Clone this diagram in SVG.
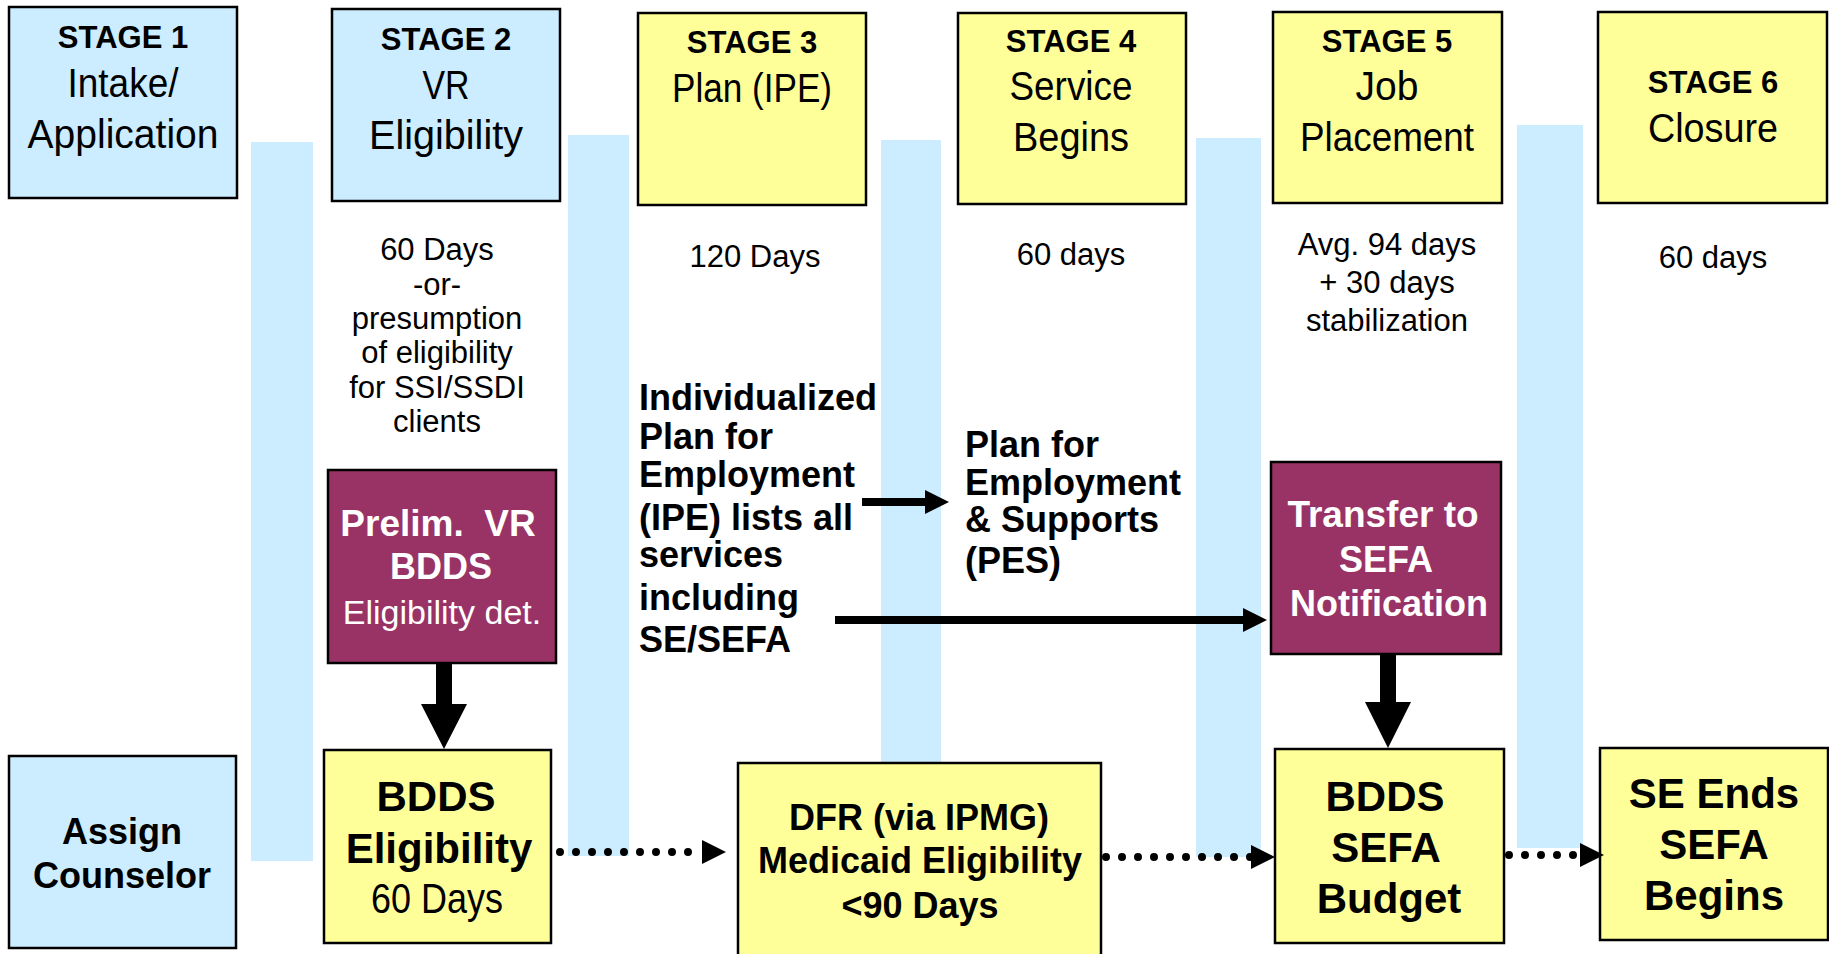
<svg xmlns="http://www.w3.org/2000/svg" width="1829" height="954" viewBox="0 0 1829 954">
<style>
.bar{fill:#CCECFF}
.lb{fill:#CCECFF;stroke:#000;stroke-width:2.5}
.yl{fill:#FFFF99;stroke:#000;stroke-width:2.5}
.mr{fill:#993366;stroke:#000;stroke-width:2.5}
text{font-family:'Liberation Sans',Arial,sans-serif;fill:#000}
.c{text-anchor:middle}
.b{font-weight:bold}
.w{fill:#fff}
.st{font-size:31px;font-weight:bold;text-anchor:middle}
.tt{font-size:40px;text-anchor:middle}
.dur{font-size:31px;text-anchor:middle}
.para{font-size:36px;font-weight:bold}
.solid{stroke:#000;stroke-width:8;fill:none}
.dot{stroke:#000;stroke-width:8;fill:none;stroke-linecap:round;stroke-dasharray:0 16}
</style>
<defs>
<marker id="ah" markerUnits="userSpaceOnUse" markerWidth="24" markerHeight="24" refX="0" refY="12" orient="auto">
<path d="M0,0 L24,12 L0,24 z" fill="#000"/>
</marker>
</defs>
<rect width="1829" height="954" fill="#fff"/>
<g id="bars">
<rect class="bar" x="251" y="142" width="62" height="719"/>
<rect class="bar" x="568" y="135" width="61" height="721"/>
<rect class="bar" x="881" y="140" width="60" height="624"/>
<rect class="bar" x="1196" y="138" width="65" height="719"/>
<rect class="bar" x="1517" y="125" width="66" height="723"/>
</g>
<g id="stage1">
<rect class="lb" x="9" y="7" width="228" height="191"/>
<text class="st" x="123" y="48">STAGE 1</text>
<text class="tt" x="123" y="97" textLength="111" lengthAdjust="spacingAndGlyphs">Intake/</text>
<text class="tt" x="123" y="148" textLength="191" lengthAdjust="spacingAndGlyphs">Application</text>
</g>
<g id="stage2">
<rect class="lb" x="332" y="9" width="228" height="192"/>
<text class="st" x="446" y="50">STAGE 2</text>
<text class="tt" x="446" y="99" textLength="47" lengthAdjust="spacingAndGlyphs">VR</text>
<text class="tt" x="446" y="149" textLength="154" lengthAdjust="spacingAndGlyphs">Eligibility</text>
</g>
<g id="stage2-note">
<text class="dur" x="437" y="260">60 Days</text>
<text class="dur" x="437" y="295">-or-</text>
<text class="dur" x="437" y="329">presumption</text>
<text class="dur" x="437" y="363">of eligibility</text>
<text class="dur" x="437" y="398">for SSI/SSDI</text>
<text class="dur" x="437" y="432">clients</text>
</g>
<g id="stage3">
<rect class="yl" x="638" y="13" width="228" height="192"/>
<text class="st" x="752" y="53">STAGE 3</text>
<text class="tt" x="752" y="102" textLength="160" lengthAdjust="spacingAndGlyphs">Plan (IPE)</text>
</g>
<g id="stage3-note">
<text class="dur" x="755" y="267">120 Days</text>
</g>
<g id="stage4">
<rect class="yl" x="958" y="13" width="228" height="191"/>
<text class="st" x="1071" y="52">STAGE 4</text>
<text class="tt" x="1071" y="100" textLength="123" lengthAdjust="spacingAndGlyphs">Service</text>
<text class="tt" x="1071" y="151" textLength="116" lengthAdjust="spacingAndGlyphs">Begins</text>
</g>
<g id="stage4-note">
<text class="dur" x="1071" y="265">60 days</text>
</g>
<g id="stage5">
<rect class="yl" x="1273" y="12" width="229" height="191"/>
<text class="st" x="1387" y="52">STAGE 5</text>
<text class="tt" x="1387" y="100" textLength="63" lengthAdjust="spacingAndGlyphs">Job</text>
<text class="tt" x="1387" y="151" textLength="174" lengthAdjust="spacingAndGlyphs">Placement</text>
</g>
<g id="stage5-note">
<text class="dur" x="1387" y="255">Avg. 94 days</text>
<text class="dur" x="1387" y="293">+ 30 days</text>
<text class="dur" x="1387" y="331">stabilization</text>
</g>
<g id="stage6">
<rect class="yl" x="1598" y="12" width="229" height="191"/>
<text class="st" x="1713" y="93">STAGE 6</text>
<text class="tt" x="1713" y="142" textLength="130" lengthAdjust="spacingAndGlyphs">Closure</text>
</g>
<g id="stage6-note">
<text class="dur" x="1713" y="268">60 days</text>
</g>
<g id="ipe-text">
<text class="para" x="639" y="410">Individualized</text>
<text class="para" x="639" y="449">Plan for</text>
<text class="para" x="639" y="487">Employment</text>
<text class="para" x="639" y="530">(IPE) lists all</text>
<text class="para" x="639" y="567">services</text>
<text class="para" x="639" y="610">including</text>
<text class="para" x="639" y="652">SE/SEFA</text>
</g>
<g id="pes-text">
<text class="para" x="965" y="457">Plan for</text>
<text class="para" x="965" y="495">Employment</text>
<text class="para" x="965" y="532">&amp; Supports</text>
<text class="para" x="965" y="573">(PES)</text>
</g>
<g id="prelim">
<rect class="mr" x="328" y="470" width="228" height="193"/>
<text class="c b w" x="438" y="536" font-size="37" xml:space="preserve">Prelim.  VR</text>
<text class="c b w" x="441" y="579" font-size="36">BDDS</text>
<text class="c w" x="442" y="624" font-size="34">Eligibility det.</text>
</g>
<g id="transfer">
<rect class="mr" x="1271" y="462" width="230" height="192"/>
<text class="c b w" x="1383" y="527" font-size="37">Transfer to</text>
<text class="c b w" x="1386" y="572" font-size="36">SEFA</text>
<text class="c b w" x="1389" y="616" font-size="36">Notification</text>
</g>
<g id="assign">
<rect class="lb" x="9" y="756" width="227" height="192"/>
<text class="c b" x="122" y="844" font-size="36">Assign</text>
<text class="c b" x="122" y="888" font-size="36">Counselor</text>
</g>
<g id="bdds-elig">
<rect class="yl" x="324" y="750" width="227" height="193"/>
<text class="c b" x="436" y="811" font-size="42">BDDS</text>
<text class="c b" x="439" y="863" font-size="42">Eligibility</text>
<text class="c" x="437" y="913" font-size="42" textLength="132" lengthAdjust="spacingAndGlyphs">60 Days</text>
</g>
<g id="dfr">
<rect class="yl" x="738" y="763" width="363" height="200"/>
<text class="c b" x="919" y="830" font-size="36">DFR (via IPMG)</text>
<text class="c b" x="920" y="873" font-size="36">Medicaid Eligibility</text>
<text class="c b" x="920" y="918" font-size="36">&lt;90 Days</text>
</g>
<g id="bdds-sefa">
<rect class="yl" x="1275" y="749" width="229" height="194"/>
<text class="c b" x="1385" y="811" font-size="42">BDDS</text>
<text class="c b" x="1386" y="862" font-size="42">SEFA</text>
<text class="c b" x="1389" y="913" font-size="42">Budget</text>
</g>
<g id="se-ends">
<rect class="yl" x="1600" y="748" width="228" height="192"/>
<text class="c b" x="1714" y="808" font-size="42">SE Ends</text>
<text class="c b" x="1714" y="859" font-size="42">SEFA</text>
<text class="c b" x="1714" y="910" font-size="42">Begins</text>
</g>
<g id="connectors">
<polygon points="436,663 452,663 452,704 467,704 444,749 421,704 436,704" fill="#000"/>
<polygon points="1380,654 1396,654 1396,702 1411,702 1388,748 1365,702 1380,702" fill="#000"/>
<path class="solid" d="M862,502 H925" marker-end="url(#ah)"/>
<path class="solid" d="M835,620 H1243" marker-end="url(#ah)"/>
<path class="dot" d="M560,852 H702" marker-end="url(#ah)"/>
<path class="dot" d="M1106,857 H1251" marker-end="url(#ah)"/>
<path class="dot" d="M1509,855 H1580" marker-end="url(#ah)"/>
</g>
</svg>
